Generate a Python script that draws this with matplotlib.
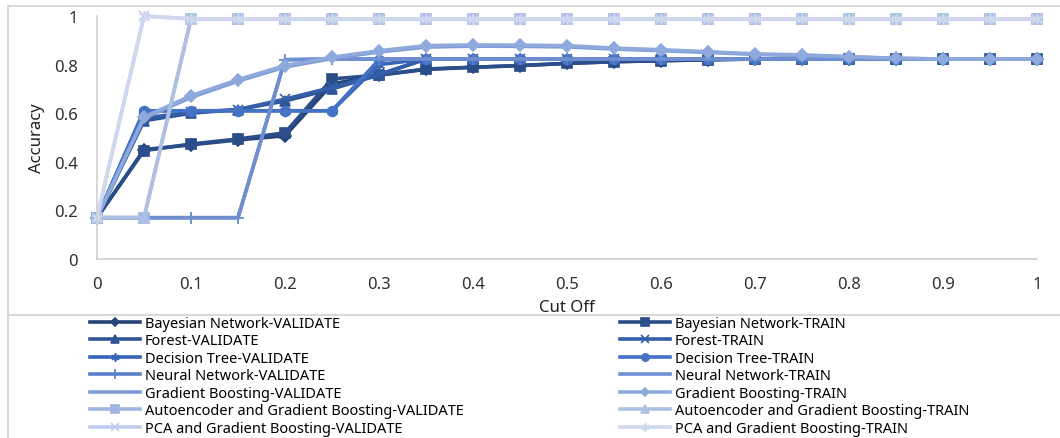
import matplotlib
matplotlib.use("Agg")
import matplotlib.pyplot as plt
from matplotlib.lines import Line2D

plt.rcParams['font.family'] = ['Noto Sans', 'DejaVu Sans']

cut_off = [0.0, 0.05, 0.1, 0.15, 0.2, 0.25, 0.3, 0.35, 0.4, 0.45, 0.5,
           0.55, 0.6, 0.65, 0.7, 0.75, 0.8, 0.85, 0.9, 0.95, 1.0]

bn_validate = [0.17, 0.45, 0.47, 0.49, 0.507, 0.72, 0.757, 0.78, 0.789, 0.796, 0.805,
               0.812, 0.816, 0.82, 0.823, 0.823, 0.823, 0.823, 0.823, 0.823, 0.823]
bn_train = [0.17, 0.446, 0.473, 0.494, 0.519, 0.741, 0.757, 0.782, 0.789, 0.796, 0.805,
            0.812, 0.816, 0.82, 0.823, 0.823, 0.823, 0.823, 0.823, 0.823, 0.823]
forest_validate = [0.17, 0.569, 0.6, 0.615, 0.65, 0.70, 0.757, 0.823, 0.823, 0.823, 0.823,
                   0.823, 0.823, 0.823, 0.823, 0.823, 0.823, 0.823, 0.823, 0.823, 0.823]
forest_train = [0.17, 0.58, 0.604, 0.615, 0.658, 0.706, 0.76, 0.823, 0.823, 0.823, 0.823,
                0.823, 0.823, 0.823, 0.823, 0.823, 0.823, 0.823, 0.823, 0.823, 0.823]
dt_validate = [0.17, 0.61, 0.61, 0.61, 0.61, 0.61, 0.80, 0.823, 0.823, 0.823, 0.823,
               0.823, 0.823, 0.823, 0.823, 0.823, 0.823, 0.823, 0.823, 0.823, 0.823]
dt_train = [0.17, 0.61, 0.61, 0.61, 0.61, 0.61, 0.82, 0.823, 0.823, 0.823, 0.823,
            0.823, 0.823, 0.823, 0.823, 0.823, 0.823, 0.823, 0.823, 0.823, 0.823]
nn_validate = [0.17, 0.17, 0.17, 0.17, 0.82, 0.823, 0.823, 0.823, 0.823, 0.823, 0.823,
               0.823, 0.823, 0.823, 0.823, 0.823, 0.823, 0.823, 0.823, 0.823, 0.823]
nn_train = [0.17, 0.17, 0.17, 0.17, 0.82, 0.823, 0.823, 0.823, 0.823, 0.823, 0.823,
            0.823, 0.823, 0.823, 0.823, 0.823, 0.823, 0.823, 0.823, 0.823, 0.823]
gb_validate = [0.17, 0.58, 0.665, 0.732, 0.79, 0.825, 0.852, 0.872, 0.876, 0.875, 0.873,
               0.864, 0.857, 0.85, 0.842, 0.837, 0.831, 0.826, 0.823, 0.823, 0.823]
gb_train = [0.17, 0.584, 0.672, 0.738, 0.796, 0.83, 0.857, 0.878, 0.881, 0.88, 0.878,
            0.868, 0.861, 0.853, 0.844, 0.84, 0.833, 0.826, 0.823, 0.823, 0.823]
ae_validate = [0.17, 0.17, 0.988, 0.988, 0.988, 0.988, 0.988, 0.988, 0.988, 0.988, 0.988,
               0.988, 0.988, 0.988, 0.988, 0.988, 0.988, 0.988, 0.988, 0.988, 0.988]
ae_train = [0.17, 0.17, 0.988, 0.988, 0.988, 0.988, 0.988, 0.988, 0.988, 0.988, 0.988,
            0.988, 0.988, 0.988, 0.988, 0.988, 0.988, 0.988, 0.988, 0.988, 0.988]
pca_validate = [0.17, 1.0, 0.988, 0.988, 0.988, 0.988, 0.988, 0.988, 0.988, 0.988, 0.988,
                0.988, 0.988, 0.988, 0.988, 0.988, 0.988, 0.988, 0.988, 0.988, 0.988]
pca_train = [0.17, 1.0, 0.988, 0.988, 0.988, 0.988, 0.988, 0.988, 0.988, 0.988, 0.988,
             0.988, 0.988, 0.988, 0.988, 0.988, 0.988, 0.988, 0.988, 0.988, 0.988]

labels = ["Bayesian Network-VALIDATE", "Bayesian Network-TRAIN",
          "Forest-VALIDATE", "Forest-TRAIN",
          "Decision Tree-VALIDATE", "Decision Tree-TRAIN",
          "Neural Network-VALIDATE", "Neural Network-TRAIN",
          "Gradient Boosting-VALIDATE", "Gradient Boosting-TRAIN",
          "Autoencoder and Gradient Boosting-VALIDATE", "Autoencoder and Gradient Boosting-TRAIN",
          "PCA and Gradient Boosting-VALIDATE", "PCA and Gradient Boosting-TRAIN"]
series = [bn_validate, bn_train, forest_validate, forest_train, dt_validate, dt_train,
          nn_validate, nn_train, gb_validate, gb_train, ae_validate, ae_train,
          pca_validate, pca_train]

# monochrome blue shades, darkest first
colors = ['#264478', '#2b4d8a', '#2f5597', '#335ea8', '#3866b6', '#4472c4', '#5a80c9',
          '#6f8fd0', '#7f9cd6', '#8ea9dc', '#a0b5e0', '#afc0e5', '#c1cdea', '#cfd8ef']
asterisk = (6, 2, 0)
markers = ['D', 's', '^', 'x', asterisk, 'o', '+', None, None, 'D', 's', '^', 'x', asterisk]
msizes = [6, 7, 7, 7, 8, 7, 9, 0, 0, 6, 7, 7, 7, 8]

fig = plt.figure(figsize=(10.6, 4.39), dpi=100)
W, H = 1060, 439
ax = fig.add_axes([97 / W, 1 - 260 / H, 940 / W, 243 / H])

handles = []
for y, lab, c, m, ms in zip(series, labels, colors, markers, msizes):
    h, = ax.plot(cut_off, y, color=c, lw=2.6, marker=m, markersize=ms,
                 markeredgewidth=1.2, label=lab, clip_on=False)
    handles.append(h)

ax.set_xlim(0, 1)
ax.set_ylim(0, 1)
ax.set_xticks([0, 0.1, 0.2, 0.3, 0.4, 0.5, 0.6, 0.7, 0.8, 0.9, 1])
ax.set_xticklabels(['0', '0.1', '0.2', '0.3', '0.4', '0.5', '0.6', '0.7', '0.8', '0.9', '1'])
ax.set_yticks([0, 0.2, 0.4, 0.6, 0.8, 1])
ax.set_yticklabels(['0', '0.2', '0.4', '0.6', '0.8', '1'])
ax.tick_params(length=0, labelsize=12, colors='#303030')
ax.tick_params(axis='x', pad=12)
ax.tick_params(axis='y', pad=14)
for side in ['top', 'right']:
    ax.spines[side].set_visible(False)
for side in ['left', 'bottom']:
    ax.spines[side].set_color('#d0d0d0')
    ax.spines[side].set_linewidth(1.2)
ax.set_xlabel('Cut Off', fontsize=12, color='#202020', labelpad=5)
ax.set_ylabel('Accuracy', fontsize=12, color='#202020', labelpad=6)

# chart area borders
border = '#d9d9d9'
fig.add_artist(Line2D([8 / W, 1], [1 - 7 / H, 1 - 7 / H], color=border, lw=1.5))
fig.add_artist(Line2D([8 / W, 8 / W], [0, 1 - 7 / H], color=border, lw=1.5))
fig.add_artist(Line2D([8 / W, 1], [1 - 316 / H, 1 - 316 / H], color=border, lw=1.5))

leg_kw = dict(loc='upper left', frameon=False, fontsize=10.5, handlelength=3.4,
              handletextpad=0.35, labelspacing=0.17, borderpad=0, borderaxespad=0,
              markerscale=0.75)
fig.legend(handles[0::2], labels[0::2], bbox_to_anchor=(90 / W, 1 - 317 / H), **leg_kw)
fig.legend(handles[1::2], labels[1::2], bbox_to_anchor=(620 / W, 1 - 317 / H), **leg_kw)

fig.savefig('out.png', dpi=100)
